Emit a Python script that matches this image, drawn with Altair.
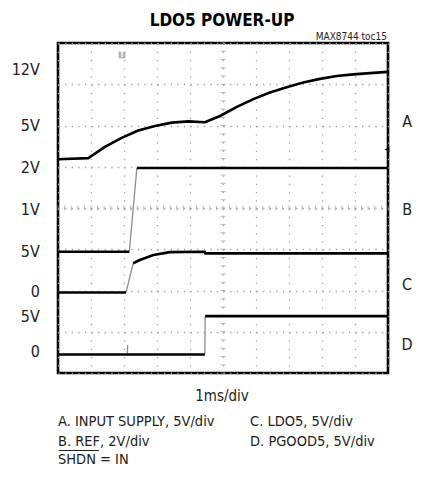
import altair as alt
import pandas as pd

FONT = "Liberation Sans Narrow, DejaVu Sans Condensed, Arial Narrow, sans-serif"

# ---- trace data: time in ms (1 ms/div), level in screen divisions (0 = bottom, 8 = top)
A_t = [0.0, 0.92, 1.42, 1.93, 2.43, 2.94, 3.45, 3.95, 4.45, 4.91, 5.42, 5.92, 6.42, 6.93, 7.43, 7.94, 8.45, 8.95, 9.45, 10.0]
A_d = [5.18, 5.21, 5.48, 5.70, 5.88, 5.99, 6.07, 6.10, 6.08, 6.23, 6.45, 6.64, 6.80, 6.93, 7.04, 7.13, 7.20, 7.24, 7.27, 7.30]

B1_t = [0.0, 2.16]
B1_d = [2.94, 2.94]
B_edge_t = [2.16, 2.39]
B_edge_d = [2.94, 4.97]
B2_t = [2.39, 10.0]
B2_d = [4.97, 4.97]

C1_t = [0.0, 2.06]
C1_d = [1.95, 1.95]
C_edge_t = [2.06, 2.28]
C_edge_d = [1.95, 2.66]
C2_t = [2.28, 2.48, 2.89, 3.39, 4.45, 4.46, 10.0]
C2_d = [2.66, 2.74, 2.86, 2.93, 2.94, 2.90, 2.90]

D1_t = [0.0, 4.45]
D1_d = [0.45, 0.45]
D_spike_t = [2.10, 2.11]
D_spike_d = [0.45, 0.68]
D_edge_t = [4.45, 4.46]
D_edge_d = [0.45, 1.38]
D2_t = [4.46, 10.0]
D2_d = [1.38, 1.38]

segments = [
    ("A", "trace", A_t, A_d),
    ("B1", "trace", B1_t, B1_d),
    ("Be", "edge", B_edge_t, B_edge_d),
    ("B2", "trace", B2_t, B2_d),
    ("C1", "trace", C1_t, C1_d),
    ("Ce", "edge", C_edge_t, C_edge_d),
    ("C2", "trace", C2_t, C2_d),
    ("D1", "trace", D1_t, D1_d),
    ("Ds", "edge", D_spike_t, D_spike_d),
    ("De", "edge", D_edge_t, D_edge_d),
    ("D2", "trace", D2_t, D2_d),
]
rows = []
for seg, kind, ts, ds in segments:
    for i, (t, d) in enumerate(zip(ts, ds)):
        rows.append({"seg": seg, "kind": kind, "i": i, "t": t, "d": d})
traces = pd.DataFrame(rows)

# ---- labels
left_labels = ["12V", "5V", "2V", "1V", "5V", "0", "5V", "0"]
left_levels = [7.35, 5.99, 4.97, 3.95, 2.93, 1.96, 1.36, 0.51]
right_labels = ["A", "B", "C", "D"]
right_levels = [6.08, 3.95, 2.13, 0.68]
caption_left = ["A. INPUT SUPPLY, 5V/div", "B. REF, 2V/div", "SHDN = IN"]
caption_right = ["C. LDO5, 5V/div", "D. PGOOD5, 5V/div"]
caption_rows = [-1.28, -1.77, -2.21]

# center-line minor ticks (5 per division)
minor_x = [k / 5 for k in range(51)]
minor_y = [k / 5 for k in range(41)]

xs = alt.Scale(domain=[0, 10], nice=False, zero=False)
ys = alt.Scale(domain=[0, 8], nice=False, zero=False)
ax_x = alt.Axis(title=None, labels=False, ticks=False, domain=False, grid=True,
                values=list(range(11)), gridColor="#a0a0a0", gridWidth=1.3,
                gridDash=[1.3, 6.95])
ax_y = alt.Axis(title=None, labels=False, ticks=False, domain=False, grid=True,
                values=list(range(9)), gridColor="#a0a0a0", gridWidth=1.3,
                gridDash=[1.3, 5.3])
X = alt.X("t:Q", scale=xs, axis=ax_x)
Y = alt.Y("d:Q", scale=ys, axis=ax_y)

base = alt.Chart(traces)

trace_layer = base.transform_filter(alt.datum.kind == "trace").mark_line(
    color="black", strokeWidth=2.6, strokeJoin="round"
).encode(x=X, y=Y, detail="seg:N", order="i:Q")

edge_layer = base.transform_filter(alt.datum.kind == "edge").mark_line(
    color="#8c8c8c", strokeWidth=1.3
).encode(x=X, y=Y, detail="seg:N", order="i:Q")

hticks = alt.Chart(pd.DataFrame({"t": minor_x, "d": [4] * len(minor_x)})).mark_tick(
    orient="vertical", size=5, thickness=1, color="#9a9a9a"
).encode(x=X, y=Y)
vticks = alt.Chart(pd.DataFrame({"t": [5] * len(minor_y), "d": minor_y})).mark_tick(
    orient="horizontal", size=5, thickness=1, color="#9a9a9a"
).encode(x=X, y=Y)

left_df = pd.DataFrame({"t": [-0.55] * len(left_labels), "d": left_levels, "txt": left_labels})
left_layer = alt.Chart(left_df).mark_text(
    align="right", baseline="middle", font=FONT, fontSize=16, color="#222"
).encode(x=X, y=Y, text="txt:N")

right_df = pd.DataFrame({"t": [10.58] * len(right_labels), "d": right_levels, "txt": right_labels})
right_layer = alt.Chart(right_df).mark_text(
    align="center", baseline="middle", font=FONT, fontSize=16, color="#222"
).encode(x=X, y=Y, text="txt:N")

title_layer = alt.Chart(pd.DataFrame({"t": [4.97], "d": [8.41], "txt": ["LDO5 POWER-UP"]})).mark_text(
    align="center", baseline="alphabetic", font=FONT, fontSize=17, fontWeight="bold", color="black"
).encode(x=X, y=Y, text="txt:N")

toc_layer = alt.Chart(pd.DataFrame({"t": [9.97], "d": [8.07], "txt": ["MAX8744 toc15"]})).mark_text(
    align="right", baseline="alphabetic", font=FONT, fontSize=10, color="#222"
).encode(x=X, y=Y, text="txt:N")

xlabel_layer = alt.Chart(pd.DataFrame({"t": [4.97], "d": [-0.68], "txt": ["1ms/div"]})).mark_text(
    align="center", baseline="alphabetic", font=FONT, fontSize=15, color="#222"
).encode(x=X, y=Y, text="txt:N")

cap_df = pd.DataFrame(
    {"t": [0.0] * 3 + [5.82] * 2,
     "d": caption_rows + caption_rows[:2],
     "txt": caption_left + caption_right}
)
cap_layer = alt.Chart(cap_df).mark_text(
    align="left", baseline="alphabetic", font=FONT, fontSize=14.5, color="#222"
).encode(x=X, y=Y, text="txt:N")

overline = alt.Chart(pd.DataFrame({"t": [0.02], "t2": [1.24], "d": [-1.88]})).mark_rule(
    color="#222", strokeWidth=1.1
).encode(x=X, x2="t2:Q", y=Y)

trig = alt.Chart(pd.DataFrame({"t": [1.94], "d": [7.71]})).mark_point(
    shape="square", filled=True, size=45, color="#b0b0b0", opacity=1
).encode(x=X, y=Y)
trig_t = alt.Chart(pd.DataFrame({"t": [1.94], "d": [7.71], "txt": ["T"]})).mark_text(
    align="center", baseline="middle", font=FONT, fontSize=8, fontWeight="bold", color="white"
).encode(x=X, y=Y, text="txt:N")

level_marker = alt.Chart(pd.DataFrame({"t": [9.97], "d": [5.42]})).mark_point(
    shape="triangle-left", filled=True, size=30, color="black", opacity=1
).encode(x=X, y=Y)

chart = alt.layer(
    hticks, vticks, trig, trig_t, edge_layer, trace_layer, level_marker,
    left_layer, right_layer, title_layer, toc_layer, xlabel_layer, cap_layer, overline
).properties(
    width=330, height=330,
    autosize=alt.AutoSizeParams(type="none"),
    padding={"left": 50, "top": 35, "right": 28, "bottom": 96},
    background="white",
).configure_view(
    stroke="black", strokeWidth=2.6
)

chart.save("out.html", embed_options={"renderer": "svg", "actions": False})
